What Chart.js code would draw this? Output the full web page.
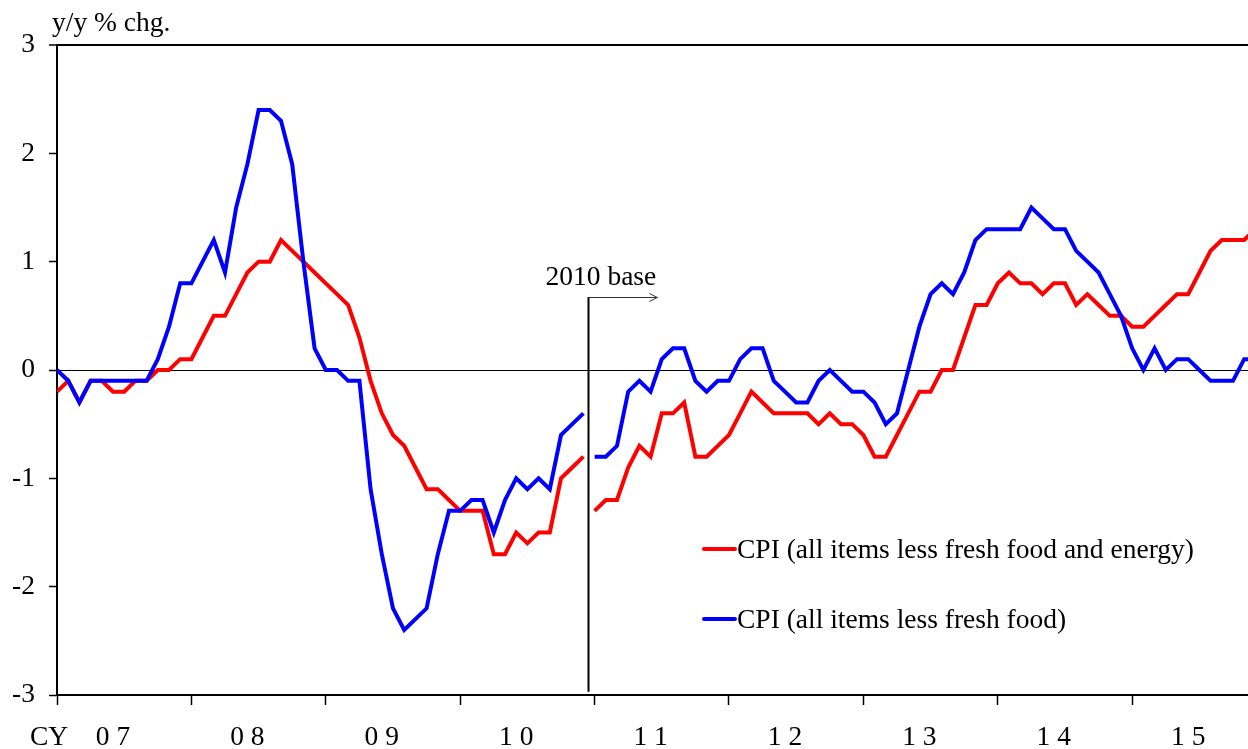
<!DOCTYPE html>
<html>
<head>
<meta charset="utf-8">
<script src="https://cdn.jsdelivr.net/npm/chart.js@4/dist/chart.umd.min.js"></script>
<style>
  html, body { margin: 0; padding: 0; background: #ffffff; }
  #wrap { width: 1248px; height: 749px; position: relative; }
</style>
</head>
<body>
<div id="wrap"><canvas id="c" width="1248" height="749"></canvas></div>
<script>
// ---------------- data ----------------
const years = [2007, 2008, 2009, 2010, 2011, 2012, 2013, 2014, 2015];
const yearLabels = ["0 7", "0 8", "0 9", "1 0", "1 1", "1 2", "1 3", "1 4", "1 5"];
const months = [];
years.forEach(y => { for (let m = 1; m <= 12; m++) months.push(y + "-" + String(m).padStart(2, "0")); });

const seriesNames = ["CPI (all items less fresh food and energy)", "CPI (all items less fresh food)"];

// CPI (all items less fresh food and energy), y/y % chg.
const cpiLessFreshFoodEnergy = [
  -0.2, -0.1, -0.3, -0.1, -0.1, -0.2, -0.2, -0.1, -0.1,  0.0,  0.0,  0.1,  // 2007
   0.1,  0.3,  0.5,  0.5,  0.7,  0.9,  1.0,  1.0,  1.2,  1.1,  1.0,  0.9,  // 2008
   0.8,  0.7,  0.6,  0.3, -0.1, -0.4, -0.6, -0.7, -0.9, -1.1, -1.1, -1.2,  // 2009
  -1.3, -1.3, -1.3, -1.7, -1.7, -1.5, -1.6, -1.5, -1.5, -1.0, -0.9, -0.8,  // 2010
  -1.3, -1.2, -1.2, -0.9, -0.7, -0.8, -0.4, -0.4, -0.3, -0.8, -0.8, -0.7,  // 2011
  -0.6, -0.4, -0.2, -0.3, -0.4, -0.4, -0.4, -0.4, -0.5, -0.4, -0.5, -0.5,  // 2012
  -0.6, -0.8, -0.8, -0.6, -0.4, -0.2, -0.2,  0.0,  0.0,  0.3,  0.6,  0.6,  // 2013
   0.8,  0.9,  0.8,  0.8,  0.7,  0.8,  0.8,  0.6,  0.7,  0.6,  0.5,  0.5,  // 2014
   0.4,  0.4,  0.5,  0.6,  0.7,  0.7,  0.9,  1.1,  1.2,  1.2,  1.2,  1.3   // 2015
];

// CPI (all items less fresh food), y/y % chg.
const cpiLessFreshFood = [
   0.0, -0.1, -0.3, -0.1, -0.1, -0.1, -0.1, -0.1, -0.1,  0.1,  0.4,  0.8,  // 2007
   0.8,  1.0,  1.2,  0.9,  1.5,  1.9,  2.4,  2.4,  2.3,  1.9,  1.0,  0.2,  // 2008
   0.0,  0.0, -0.1, -0.1, -1.1, -1.7, -2.2, -2.4, -2.3, -2.2, -1.7, -1.3,  // 2009
  -1.3, -1.2, -1.2, -1.5, -1.2, -1.0, -1.1, -1.0, -1.1, -0.6, -0.5, -0.4,  // 2010
  -0.8, -0.8, -0.7, -0.2, -0.1, -0.2,  0.1,  0.2,  0.2, -0.1, -0.2, -0.1,  // 2011
  -0.1,  0.1,  0.2,  0.2, -0.1, -0.2, -0.3, -0.3, -0.1,  0.0, -0.1, -0.2,  // 2012
  -0.2, -0.3, -0.5, -0.4,  0.0,  0.4,  0.7,  0.8,  0.7,  0.9,  1.2,  1.3,  // 2013
   1.3,  1.3,  1.3,  1.5,  1.4,  1.3,  1.3,  1.1,  1.0,  0.9,  0.7,  0.5,  // 2014
   0.2,  0.0,  0.2,  0.0,  0.1,  0.1,  0.0, -0.1, -0.1, -0.1,  0.1,  0.1   // 2015
];

const baseChangeIndex = 48;           // Jan 2011: switch to 2010 base
const yearStartIdx = years.map((y, k) => k * 12);
const yTicks = [-3, -2, -1, 0, 1, 2, 3];

// ---------------- helpers ----------------
const FONT = '"Liberation Serif", "Times New Roman", serif';
const FS = 27.5;
Chart.defaults.font.family = FONT;
Chart.defaults.color = '#000';

function toPoints(vals) {
  const pts = [];
  vals.forEach((v, i) => {
    if (i === baseChangeIndex) pts.push({ x: i - 0.5, y: null });
    pts.push({ x: i, y: v });
  });
  return pts;
}

const annotations = {
  id: 'annotations',
  afterDraw(chart) {
    const { ctx, scales: { x, y } } = chart;
    ctx.save();
    // 2010 base marker
    const bx = Math.round(x.getPixelForValue(baseChangeIndex - 0.5)) - 0.5;
    const top = Math.round(y.getPixelForValue(0.675)) + 0.5;
    const bot = y.getPixelForValue(-2.97);
    ctx.strokeStyle = '#000';
    ctx.lineWidth = 2;
    ctx.beginPath(); ctx.moveTo(bx, top - 0.5); ctx.lineTo(bx, bot); ctx.stroke();
    const ax = x.getPixelForValue(baseChangeIndex + 5.6);
    ctx.lineWidth = 1;
    ctx.strokeStyle = '#333';
    ctx.beginPath(); ctx.moveTo(bx, top); ctx.lineTo(ax, top); ctx.stroke();
    ctx.beginPath(); ctx.moveTo(ax - 8, top - 4); ctx.lineTo(ax, top); ctx.lineTo(ax - 8, top + 4); ctx.stroke();
    ctx.fillStyle = '#000';
    ctx.font = FS + 'px ' + FONT;
    ctx.textAlign = 'left';
    ctx.textBaseline = 'alphabetic';
    ctx.fillText('2010 base', bx - 43, top - 13);

    // axis unit
    ctx.fillText('y/y % chg.', 52, 31);
    // CY prefix for x labels
    ctx.fillText('CY', 30, 745);

    // legend
    const items = [
      { label: chart.data.datasets[0].label, color: chart.data.datasets[0].borderColor, y: 549 },
      { label: chart.data.datasets[1].label, color: chart.data.datasets[1].borderColor, y: 619 }
    ];
    items.forEach(it => {
      ctx.strokeStyle = it.color;
      ctx.lineWidth = 4;
      ctx.lineCap = 'round';
      ctx.beginPath(); ctx.moveTo(704, it.y); ctx.lineTo(735, it.y); ctx.stroke();
      ctx.fillStyle = '#000';
      ctx.fillText(it.label, 737, it.y + 9);
    });
    ctx.restore();
  }
};

new Chart(document.getElementById('c').getContext('2d'), {
  type: 'line',
  data: {
    datasets: [
      {
        label: seriesNames[0],
        data: toPoints(cpiLessFreshFoodEnergy),
        borderColor: '#ff0000',
        borderWidth: 4,
        pointRadius: 0,
        tension: 0,
        spanGaps: false,
        order: 1
      },
      {
        label: seriesNames[1],
        data: toPoints(cpiLessFreshFood),
        borderColor: '#0000ff',
        borderWidth: 4,
        pointRadius: 0,
        tension: 0,
        spanGaps: false,
        order: 0
      }
    ]
  },
  options: {
    responsive: false,
    animation: false,
    events: [],
    layout: { padding: { top: 45, left: 0, right: 0, bottom: 0 } },
    plugins: { legend: { display: false }, tooltip: { enabled: false } },
    scales: {
      x: {
        type: 'linear',
        min: 0,
        max: 106.34,
        afterBuildTicks: s => { s.ticks = yearStartIdx.map(v => ({ value: v })); },
        afterFit: s => { s.height = 54; },
        ticks: {
          autoSkip: false,
          maxRotation: 0,
          minRotation: 0,
          labelOffset: 56,
          padding: 16,
          font: { size: FS },
          color: '#000',
          callback: (v, i) => yearLabels[i]
        },
        grid: { drawOnChartArea: false, drawTicks: true, tickLength: 10, tickColor: '#000', tickWidth: 1.5 },
        border: { display: true, color: '#000', width: 2 }
      },
      y: {
        min: -3,
        max: 3,
        afterBuildTicks: s => { s.ticks = yTicks.map(v => ({ value: v })); },
        afterFit: s => { s.width = 57; },
        ticks: { font: { size: FS }, color: '#000', padding: 14 },
        grid: {
          color: c => (c.tick && (c.tick.value === 0 || c.tick.value === 3)) ? '#000' : 'rgba(0,0,0,0)',
          lineWidth: c => (c.tick && c.tick.value === 3) ? 2 : 1,
          drawTicks: true,
          tickLength: 8,
          tickColor: '#000',
          tickWidth: 1.5
        },
        border: { display: true, color: '#000', width: 2 }
      }
    }
  },
  plugins: [annotations]
});
</script>
</body>
</html>
